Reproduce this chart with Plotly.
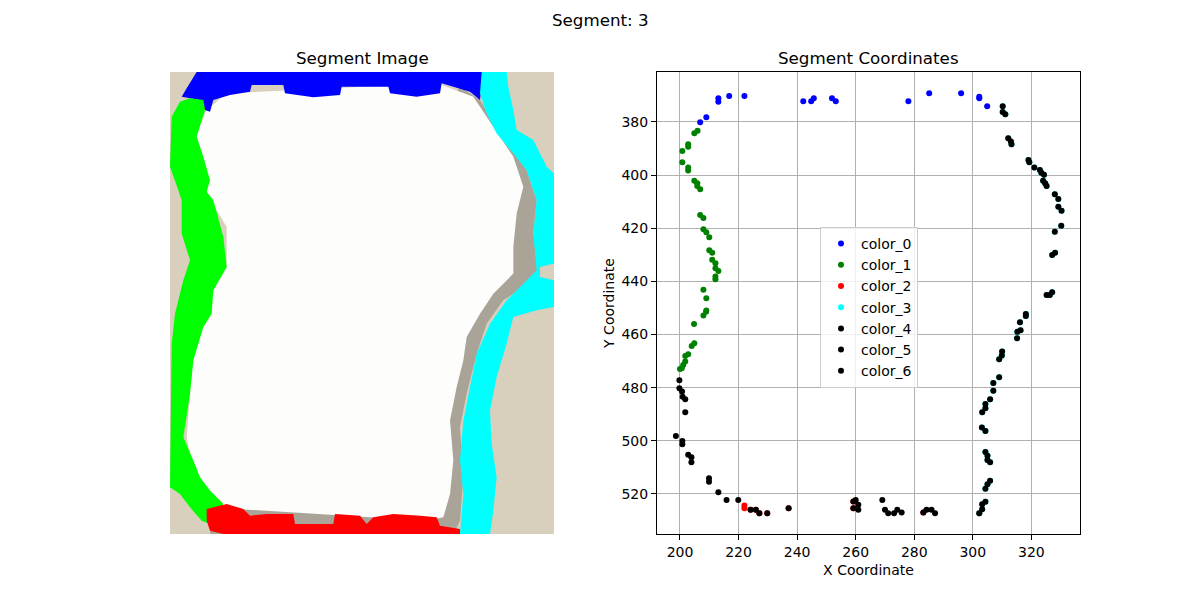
import plotly.graph_objects as go

# ---- segment coordinates (right panel) ----
c0_x = [213.1, 213.1, 216.8, 222.0, 242.1, 244.8, 245.7, 251.9, 253.2, 209.0, 206.9,
        278.0, 285.1, 296.0, 302.2, 302.2, 304.9]
c0_y = [371.1, 372.4, 370.2, 370.2, 372.2, 372.2, 371.1, 371.1, 372.2, 378.2, 380.1,
        372.2, 369.2, 369.2, 370.5, 371.1, 374.1]

c1_x = [204.9, 206.0, 200.8, 202.8, 202.8, 200.8, 202.8, 202.8, 204.9, 205.9, 205.9, 206.9,
        206.9, 208.0, 208.0, 209.0, 210.0, 210.0, 211.0, 211.0, 212.1, 213.1, 212.1,
        212.1, 212.1, 208.0, 209.0, 209.0, 208.0, 208.9, 204.8, 204.0, 204.9, 202.8,
        201.8, 201.8, 201.1, 200.0, 200.6]
c1_y = [384.3, 383.3, 390.9, 388.4, 389.3, 395.2, 397.1, 398.3, 402.1, 403.1, 404.1, 405.3,
        415.0, 416.2, 420.4, 421.5, 423.4, 428.3, 429.2, 431.9, 433.2, 436.1, 435.1,
        438.2, 439.2, 443.2, 446.4, 451.0, 452.9, 451.4, 456.1, 464.3, 463.3, 467.4,
        468.1, 470.2, 471.5, 473.0, 472.7]

c2_x = [222.0, 222.0, 224.1, 225.9, 227.1, 229.8, 237.1, 259.2, 259.2, 283.1, 302.2]
c2_y = [524.4, 525.4, 526.0, 526.0, 527.3, 527.3, 525.4, 525.4, 522.9, 527.0, 527.3]

c3_x = [310.2, 310.2, 311.1, 312.1, 313.0, 313.2, 319.0, 319.3, 321.0, 322.9, 323.4, 324.3,
        324.0, 324.7, 325.2, 328.0, 329.2, 329.2, 330.3, 330.2, 328.0, 327.1, 328.1,
        325.2, 327.1, 326.3, 318.1, 318.1, 316.1, 315.2, 316.3, 315.1, 310.0, 309.9,
        309.0, 309.0, 307.0, 307.0, 305.9, 304.3, 304.3, 303.2, 303.1, 304.3, 304.3,
        305.0, 305.0, 305.9, 305.9, 305.0, 304.3, 304.3, 303.2, 303.2, 302.2]
c3_y = [374.1, 376.3, 377.1, 386.1, 387.4, 388.4, 394.3, 395.2, 397.1, 398.1, 399.1, 399.9,
        402.1, 403.1, 404.1, 407.2, 409.0, 411.9, 413.4, 419.1, 421.3, 430.1, 429.2,
        445.1, 444.1, 445.1, 452.3, 453.0, 455.4, 459.0, 458.4, 461.4, 466.4, 467.9,
        469.3, 476.1, 478.3, 481.2, 484.4, 486.2, 487.8, 489.3, 495.0, 496.3, 504.2,
        505.6, 507.2, 508.1, 515.1, 516.4, 518.1, 523.0, 523.9, 525.8, 527.3]

c4_x = [199.8, 199.8, 200.7, 200.9, 201.8, 201.8, 198.6, 200.8, 200.8, 202.8, 203.9, 203.9,
        209.9, 209.9, 213.1, 215.9, 219.9]
c4_y = [477.2, 480.2, 481.5, 483.4, 484.4, 489.3, 498.2, 500.1, 501.3, 505.3, 506.2, 508.1,
        514.1, 515.4, 519.4, 522.3, 522.3]

c5_x = [224.1, 225.9, 227.1, 229.8, 237.1, 259.2, 260.0, 259.2, 260.9, 260.9, 269.1, 270.0,
        271.1, 273.1, 274.2, 275.7, 283.1, 284.2, 285.9, 287.1]
c5_y = [526.0, 526.0, 527.3, 527.3, 525.4, 522.9, 522.3, 525.4, 524.1, 526.0, 522.3, 526.0,
        527.3, 527.3, 526.0, 527.0, 527.0, 526.0, 526.0, 527.3]

c6_x = c3_x
c6_y = c3_y

series = [
    ("color_0", c0_x, c0_y, "#0000ff"),
    ("color_1", c1_x, c1_y, "#008000"),
    ("color_2", c2_x, c2_y, "#ff0000"),
    ("color_3", c3_x, c3_y, "#00ffff"),
    ("color_4", c4_x, c4_y, "#000000"),
    ("color_5", c5_x, c5_y, "#000000"),
    ("color_6", c6_x, c6_y, "#000000"),
]

# ---- segment image outlines (left panel, image pixel space) ----
img_w = [30, 1182]
img_h = [36, 1420]

grey_x = [900, 960, 1010, 1090, 1130, 1120, 1140, 1090, 1030, 980, 950, 920, 900, 910, 900, 880, 150, 150]
grey_y = [80, 120, 200, 300, 420, 520, 640, 680, 720, 790, 880, 1000, 1100, 1250, 1380, 1420, 1420, 1340]

white_x = [200, 830, 900, 940, 1000, 1060, 1090, 1070, 1060, 1060, 1000, 960, 920, 910, 890, 870,
           880, 870, 850, 800, 150, 100, 80, 90, 100, 120, 200, 200, 140, 120, 110, 140]
white_y = [100, 70, 95, 110, 200, 290, 380, 460, 560, 640, 700, 760, 830, 900, 980, 1080,
           1200, 1300, 1370, 1380, 1340, 1230, 1130, 1000, 880, 760, 620, 500, 400, 300, 220, 150]

blue_x = [110, 970, 960, 930, 845, 840, 770, 690, 685, 545, 540, 460, 375, 370, 275, 270, 210,
          160, 150, 135, 120, 65, 80]
blue_y = [36, 36, 120, 95, 70, 100, 110, 100, 80, 80, 105, 112, 100, 75, 75, 95, 105,
          120, 155, 150, 120, 110, 85]

green_x = [60, 35, 30, 55, 65, 65, 90, 70, 45, 35, 30, 60, 90, 125, 150,
           190, 150, 120, 100, 70, 90, 100, 130, 155, 160, 200, 190, 160, 140, 150, 130, 110, 135, 130, 90]
green_y = [125, 170, 320, 390, 420, 520, 600, 660, 760, 850, 1280, 1300, 1340, 1380, 1390,
           1330, 1290, 1250, 1200, 1130, 1000, 900, 800, 760, 690, 620, 530, 420, 395, 360, 290, 230, 150, 120, 115]

cyan_x = [960, 1040, 1045, 1060, 1070, 1120, 1160, 1182, 1182, 1140, 1140, 1182, 1182, 1130, 1060,
          1040, 1010, 990, 995, 1010, 1000, 990,
          900, 910, 900, 910, 930, 950, 990, 1040, 1090, 1130, 1120, 1130, 1100, 1060, 1010, 980, 960, 965]
cyan_y = [36, 36, 80, 150, 210, 240, 320, 340, 610, 620, 650, 660, 740, 750, 770,
          850, 950, 1050, 1150, 1250, 1350, 1420,
          1420, 1300, 1200, 1080, 980, 880, 790, 720, 670, 630, 520, 420, 330, 280, 220, 160, 100, 36]

red_x = [140, 200, 250, 270, 320, 400, 405, 520, 525, 600, 620, 640, 700, 780, 830, 840, 900, 900,
         190, 150, 140]
red_y = [1345, 1330, 1345, 1365, 1360, 1360, 1390, 1390, 1360, 1365, 1390, 1370, 1360, 1365, 1370,
         1395, 1405, 1420, 1420, 1410, 1380]

fig = go.Figure()

fig.add_trace(go.Scatter(x=[img_w[0], img_w[1], img_w[1], img_w[0]], y=[img_h[0], img_h[0], img_h[1], img_h[1]],
                         fill="toself", fillcolor="#d8cfbc", mode="none", showlegend=False,
                         hoverinfo="skip", xaxis="x", yaxis="y"))
for px, py, col in [(grey_x, grey_y, "#aaa398"), (white_x, white_y, "#fdfdfb"),
                    (blue_x, blue_y, "#0000ff"), (green_x, green_y, "#00ff00"),
                    (cyan_x, cyan_y, "#00ffff"), (red_x, red_y, "#ff0000")]:
    fig.add_trace(go.Scatter(x=px, y=py, fill="toself", fillcolor=col, mode="none",
                             showlegend=False, hoverinfo="skip", xaxis="x", yaxis="y"))

for name, sx, sy, col in series:
    fig.add_trace(go.Scatter(x=sx, y=sy, mode="markers", name=name,
                             marker=dict(color=col, size=6, line=dict(width=0)),
                             xaxis="x2", yaxis="y2"))

# page body has an 8px margin, so everything is placed 8px up/left
def px_x(p):
    return (p - 8) / 1200

def px_y(p):
    return 1 - (p - 8) / 600

font = "DejaVu Sans"
fig.update_layout(
    width=1200, height=600,
    margin=dict(l=0, r=0, t=0, b=0),
    paper_bgcolor="white", plot_bgcolor="white",
    font=dict(family=font, size=14, color="black"),
    xaxis=dict(domain=[px_x(170), px_x(554)], range=img_w, visible=False, fixedrange=True),
    yaxis=dict(domain=[px_y(534), px_y(72)], range=[img_h[1], img_h[0]], visible=False, fixedrange=True),
    xaxis2=dict(domain=[px_x(657), px_x(1080)], range=[192.15, 336.6], anchor="y2",
                tickvals=[200, 220, 240, 260, 280, 300, 320],
                showgrid=True, gridcolor="#b0b0b0", gridwidth=1,
                showline=True, linecolor="black", linewidth=1, mirror=True,
                ticks="outside", ticklen=5, tickcolor="black", zeroline=False,
                title=dict(text="X Coordinate", font=dict(size=14), standoff=6)),
    yaxis2=dict(domain=[px_y(534), px_y(72)], range=[535.1, 361.2], anchor="x2",
                tickvals=[380, 400, 420, 440, 460, 480, 500, 520],
                showgrid=True, gridcolor="#b0b0b0", gridwidth=1,
                showline=True, linecolor="black", linewidth=1, mirror=True,
                ticks="outside", ticklen=5, tickcolor="black", zeroline=False,
                title=dict(text="Y Coordinate", font=dict(size=14), standoff=3)),
    legend=dict(x=px_x(820), y=px_y(227), xanchor="left", yanchor="top",
                bgcolor="rgba(255,255,255,0.8)", bordercolor="#cccccc", borderwidth=1,
                font=dict(size=14), tracegroupgap=0, itemwidth=30),
    annotations=[
        dict(text="Segment: 3", x=px_x(600), y=px_y(20), xref="paper", yref="paper",
             xanchor="center", yanchor="middle", showarrow=False, font=dict(size=16.7)),
        dict(text="Segment Image", x=px_x(362), y=px_y(58), xref="paper", yref="paper",
             xanchor="center", yanchor="middle", showarrow=False, font=dict(size=16.7)),
        dict(text="Segment Coordinates", x=px_x(868), y=px_y(58), xref="paper", yref="paper",
             xanchor="center", yanchor="middle", showarrow=False, font=dict(size=16.7)),
    ],
)

fig.write_html("out.html")
